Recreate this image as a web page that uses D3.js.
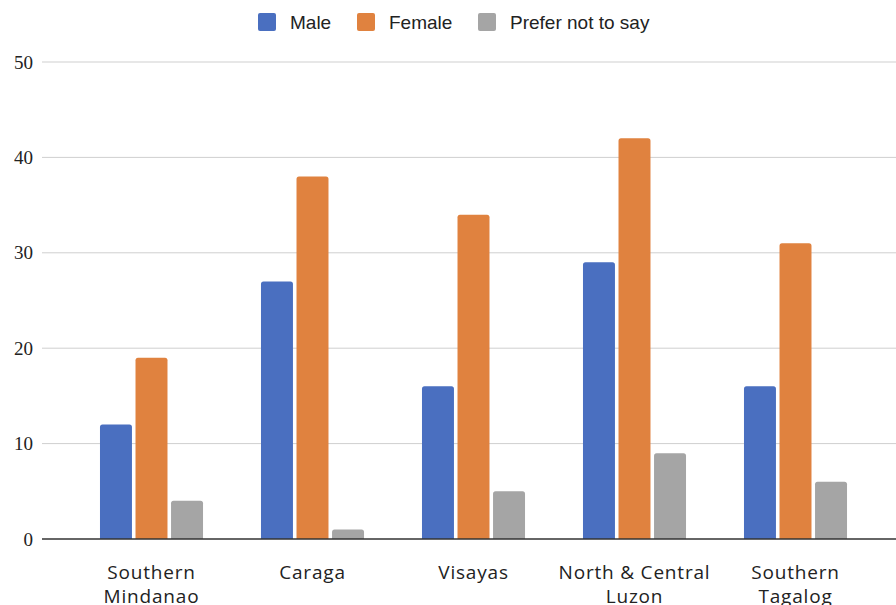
<!DOCTYPE html>
<html>
<head>
<meta charset="utf-8">
<script src="https://cdn.jsdelivr.net/npm/d3@7"></script>
<style>
  body { margin: 0; background: #fff; }
</style>
</head>
<body>
<svg id="chart"></svg>
<script>
// regions along the x axis, two lines each
const regions = ['Southern Mindanao', 'Caraga', 'Visayas', 'North & Central Luzon', 'Southern Tagalog'];
const regionLines = [['Southern', 'Mindanao'], ['Caraga'], ['Visayas'], ['North & Central', 'Luzon'], ['Southern', 'Tagalog']];
const series = ['Male', 'Female', 'Prefer not to say'];
const male = [12, 27, 16, 29, 16];
const female = [19, 38, 34, 42, 31];
const preferNot = [4, 1, 5, 9, 6];
const yTicks = [0, 10, 20, 30, 40, 50];
const colors = ['#4a6fc0', '#e0823f', '#a5a5a5'];

const width = 896, height = 605;
const svg = d3.select('#chart').attr('width', width).attr('height', height);

const values = [male, female, preferNot];
const rows = regions.map((r, i) => ({region: r, vals: series.map((s, j) => ({key: s, idx: j, value: values[j][i]}))}));

let x0 = d3.scaleBand().domain(regions).range([71, 876]).paddingInner(0.36).paddingOuter(0.18);
let x1 = d3.scaleBand().domain(series).range([0, x0.bandwidth()]).paddingInner(0.1);
let y = d3.scaleLinear().domain([0, 50]).range([539, 62]);

// gridlines
svg.append('g')
    .selectAll('line')
    .data(yTicks.filter(t => t > 0))
    .join('line')
    .attr('x1', 42).attr('x2', width)
    .attr('y1', d => y(d)).attr('y2', d => y(d))
    .attr('stroke', '#cfcfcf').attr('stroke-width', 1);

// y tick labels
svg.append('g')
    .selectAll('text')
    .data(yTicks)
    .join('text')
    .attr('x', 33).attr('y', d => y(d))
    .attr('dy', '0.35em')
    .attr('text-anchor', 'end')
    .attr('font-family', '"Liberation Serif", "DejaVu Serif", serif')
    .attr('font-size', 19)
    .attr('fill', '#222')
    .text(d => d);

// bars with slightly rounded tops
function barPath(x, yTop, w, yBase) {
    let r = Math.min(2.5, (yBase - yTop) / 2);
    return `M${x},${yBase}V${yTop + r}Q${x},${yTop} ${x + r},${yTop}H${x + w - r}Q${x + w},${yTop} ${x + w},${yTop + r}V${yBase}Z`;
}

svg.append('g')
    .selectAll('g')
    .data(rows)
    .join('g')
    .attr('transform', d => `translate(${x0(d.region)},0)`)
    .selectAll('path')
    .data(d => d.vals)
    .join('path')
    .attr('d', d => barPath(x1(d.key), y(d.value), x1.bandwidth(), y(0)))
    .attr('fill', d => colors[d.idx]);

// baseline
svg.append('line')
    .attr('x1', 42).attr('x2', width)
    .attr('y1', y(0)).attr('y2', y(0))
    .attr('stroke', '#333').attr('stroke-width', 1.5);

// x labels (bottom line runs off the page, as in the original)
svg.append('g')
    .selectAll('text')
    .data(regions)
    .join('text')
    .attr('x', d => x0(d) + x0.bandwidth() / 2)
    .attr('y', 579)
    .attr('text-anchor', 'middle')
    .attr('font-family', '"Open Sans", "DejaVu Sans", sans-serif')
    .attr('font-size', 19)
    .attr('letter-spacing', 0.8)
    .attr('fill', '#222')
    .each(function (d, i) {
        d3.select(this).selectAll('tspan')
            .data(regionLines[i])
            .join('tspan')
            .attr('x', x0(d) + x0.bandwidth() / 2)
            .attr('dy', (t, k) => k === 0 ? 0 : 24)
            .text(t => t);
    });

// legend
const legendX = [258, 357, 478];
const legend = svg.append('g')
    .selectAll('g')
    .data(series)
    .join('g')
    .attr('transform', (d, i) => `translate(${legendX[i]},13)`);
legend.append('rect')
    .attr('width', 18).attr('height', 18).attr('rx', 2)
    .attr('fill', (d, i) => colors[i]);
legend.append('text')
    .attr('x', 32).attr('y', 9).attr('dy', '0.35em')
    .attr('font-family', '"Liberation Sans", Arial, sans-serif')
    .attr('font-size', 19)
    .attr('fill', '#222')
    .text(d => d);
</script>
</body>
</html>
